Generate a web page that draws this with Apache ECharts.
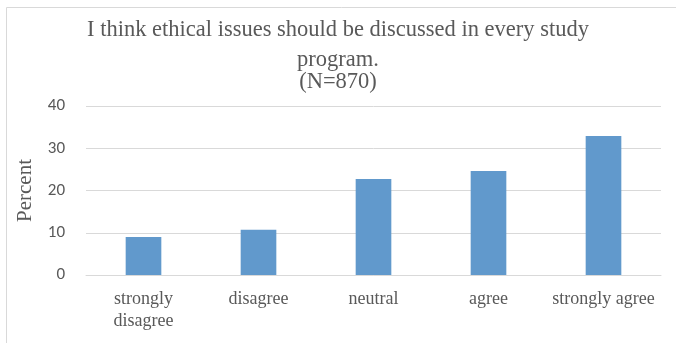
<!DOCTYPE html>
<html>
<head>
<meta charset="utf-8">
<script src="https://cdn.jsdelivr.net/npm/echarts@6/dist/echarts.min.js"></script>
<style>html,body{margin:0;padding:0;background:#fff;}#c{width:676px;height:343px;}</style>
</head>
<body>
<div id="c"></div>
<script>
var categories = ['strongly\ndisagree', 'disagree', 'neutral', 'agree', 'strongly agree'];
var values = [9.0, 10.7, 22.7, 24.6, 32.9];
var yTicks = [0, 10, 20, 30, 40];
var titleLines = ['I think ethical issues should be discussed in every study', 'program.', '(N=870)'];

var titleStyle = {fontFamily: 'Liberation Serif', fontSize: 22.5, fontWeight: 'normal', color: '#595959'};
var chart = echarts.init(document.getElementById('c'), null, {renderer: 'canvas'});
chart.setOption({
  animation: false,
  graphic: [{
    type: 'rect', left: 4, top: 5, shape: {width: 671, height: 345},
    style: {fill: 'none', stroke: '#d9d9d9', lineWidth: 1}, silent: true
  }],
  title: [
    {text: titleLines[0], left: 'center', top: 19, padding: 0, textStyle: titleStyle},
    {text: titleLines[1], left: 'center', top: 49, padding: 0, textStyle: titleStyle},
    {text: titleLines[2], left: 'center', top: 71, padding: 0, textStyle: titleStyle}
  ],
  grid: {left: 86, right: 15, top: 106, bottom: 68},
  xAxis: {
    type: 'category', data: categories,
    axisLine: {show: true, lineStyle: {color: '#d9d9d9', width: 1}},
    axisTick: {show: false},
    axisLabel: {fontFamily: 'Liberation Serif', fontSize: 18, color: '#595959', margin: 13, lineHeight: 22, interval: 0}
  },
  yAxis: {
    type: 'value', min: yTicks[0], max: yTicks[yTicks.length - 1], interval: 10,
    name: 'Percent', nameLocation: 'middle', nameGap: 50, nameRotate: 90,
    nameTextStyle: {fontFamily: 'Liberation Serif', fontSize: 21, color: '#595959'},
    axisLine: {show: false}, axisTick: {show: false},
    axisLabel: {fontFamily: 'Carlito, Liberation Sans, sans-serif', fontSize: 17, color: '#595959', margin: 21},
    splitLine: {lineStyle: {color: '#d9d9d9', width: 1}}
  },
  series: [{
    type: 'bar', data: values, barWidth: '31%',
    itemStyle: {color: '#6199cc'}
  }]
});
</script>
</body>
</html>
